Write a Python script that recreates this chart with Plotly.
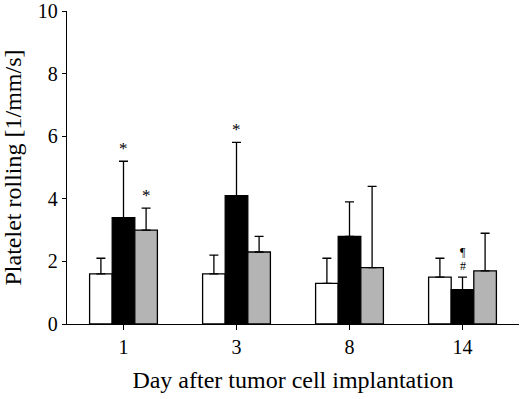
import plotly.graph_objects as go

days = ["1", "3", "8", "14"]
white_vals = [1.6, 1.6, 1.3, 1.5]
white_err_top = [2.1, 2.2, 2.1, 2.1]
black_vals = [3.4, 4.1, 2.8, 1.1]
black_err_top = [5.2, 5.8, 3.9, 1.5]
gray_vals = [3.0, 2.3, 1.8, 1.7]
gray_err_top = [3.7, 2.8, 4.4, 2.9]

# significance marks: (group index, series offset, y, text)
marks = [(0, 0.0, 5.62, "*"), (0, 0.2, 4.1, "*"), (1, 0.0, 6.2, "*"),
         (3, 0.0, 2.3, "¶"), (3, 0.0, 1.84, "#")]

xs = list(range(len(days)))
font = "Liberation Serif, Times New Roman, serif"

fig = go.Figure()
for vals, tops, color in [(white_vals, white_err_top, "white"),
                          (black_vals, black_err_top, "black"),
                          (gray_vals, gray_err_top, "#b4b4b4")]:
    fig.add_trace(go.Bar(
        x=xs, y=vals, marker=dict(color=color, line=dict(color="black", width=1.3)),
        error_y=dict(type="data", symmetric=False,
                     array=[t - v for t, v in zip(tops, vals)],
                     arrayminus=[0] * len(vals),
                     color="black", thickness=1.3, width=4.5),
        showlegend=False))

for gi, off, yv, txt in marks:
    fig.add_annotation(x=gi + off, y=yv, text=txt, showarrow=False,
                       font=dict(family=font, size=17 if txt == "*" else 12, color="#000000"))

fig.update_layout(
    width=520, height=399, margin=dict(l=67, r=1, t=11, b=75),
    plot_bgcolor="white", paper_bgcolor="white",
    barmode="group", bargap=0.4, bargroupgap=0,
    font=dict(family=font, size=20, color="black"),
    xaxis=dict(range=[-0.5, 3.5], tickvals=xs, ticktext=days, showline=True,
               linecolor="black", linewidth=1.3, ticks="outside", ticklen=5,
               tickcolor="black", showgrid=False, zeroline=False, automargin=False,
               title=dict(text="Day after tumor cell implantation", standoff=14)),
    yaxis=dict(range=[0, 10], tickvals=[0, 2, 4, 6, 8, 10], showline=True,
               linecolor="black", linewidth=1.3, ticks="outside", ticklen=4,
               tickcolor="black", showgrid=False, zeroline=False, automargin=False,
               ticklabeloverflow="allow",
               title=dict(text="Platelet rolling [1/mm/s]", standoff=12)),
)
fig.write_html("out.html", config={"displayModeBar": False},
               post_script="document.body.style.margin='0';document.body.style.padding='0';")
